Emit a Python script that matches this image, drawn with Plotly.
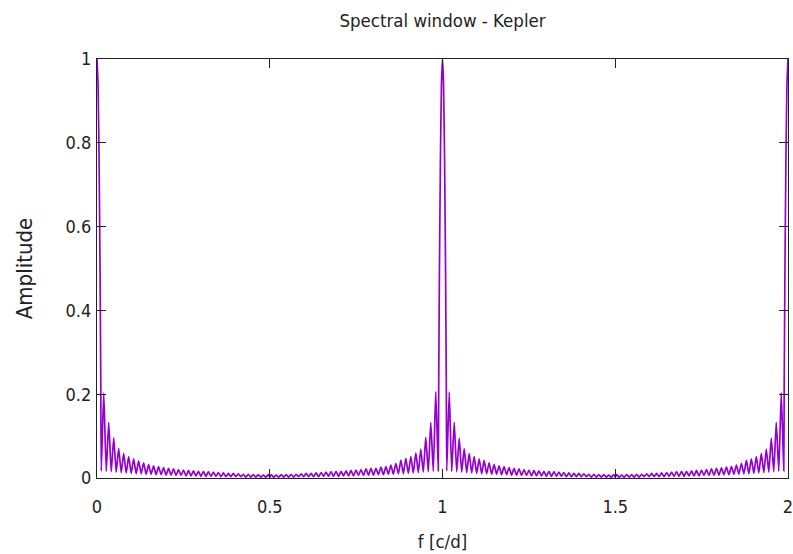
import plotly.graph_objects as go

# ---- data (peaks and troughs of the window lobes) ----
freq_a = [0.0, 0.003, 0.006, 0.009, 0.011,
          0.0123, 0.0195, 0.0267, 0.0339, 0.0412, 0.0484, 0.0556, 0.0628, 0.0700, 0.0772,
          0.0845, 0.0917, 0.0989, 0.1061, 0.1133, 0.1205, 0.1277, 0.1349, 0.1422, 0.1494,
          0.1566, 0.1638, 0.1710, 0.1782, 0.1855, 0.1927, 0.1999, 0.2071, 0.2143, 0.2215,
          0.2288, 0.2360, 0.2432, 0.2504, 0.2576, 0.2648, 0.2720, 0.2792, 0.2865, 0.2937,
          0.3009, 0.3081, 0.3153, 0.3225, 0.3298, 0.3370, 0.3442, 0.3514, 0.3586, 0.3658,
          0.3731, 0.3803, 0.3875, 0.3947, 0.4019, 0.4091, 0.4163, 0.4235, 0.4308, 0.4380,
          0.4452, 0.4524, 0.4596, 0.4668, 0.4741, 0.4813, 0.4885, 0.4957, 0.5000]
amp_a = [1.0, 0.94, 0.76, 0.48, 0.22,
         0.017, 0.203, 0.016, 0.133, 0.015, 0.096, 0.014, 0.071, 0.013, 0.059,
         0.012, 0.051, 0.011, 0.046, 0.010, 0.041, 0.010, 0.036, 0.009, 0.032,
         0.009, 0.029, 0.008, 0.027, 0.008, 0.025, 0.007, 0.023, 0.007, 0.022,
         0.006, 0.020, 0.006, 0.019, 0.005, 0.018, 0.005, 0.017, 0.005, 0.016,
         0.004, 0.016, 0.004, 0.015, 0.004, 0.014, 0.004, 0.013, 0.003, 0.012,
         0.003, 0.011, 0.003, 0.011, 0.003, 0.010, 0.003, 0.009, 0.002, 0.009,
         0.002, 0.008, 0.002, 0.008, 0.002, 0.007, 0.002, 0.008, 0.002]

freq_b = [0.5043, 0.5115, 0.5187, 0.5259, 0.5332, 0.5404, 0.5476, 0.5548, 0.5620, 0.5692,
          0.5765, 0.5837, 0.5909, 0.5981, 0.6053, 0.6125, 0.6197, 0.6269, 0.6342, 0.6414,
          0.6486, 0.6558, 0.6630, 0.6702, 0.6775, 0.6847, 0.6919, 0.6991, 0.7063, 0.7135,
          0.7208, 0.7280, 0.7352, 0.7424, 0.7496, 0.7568, 0.7640, 0.7712, 0.7785, 0.7857,
          0.7929, 0.8001, 0.8073, 0.8145, 0.8218, 0.8290, 0.8362, 0.8434, 0.8506, 0.8578,
          0.8651, 0.8723, 0.8795, 0.8867, 0.8939, 0.9011, 0.9083, 0.9155, 0.9228, 0.9300,
          0.9372, 0.9444, 0.9516, 0.9588, 0.9661, 0.9733, 0.9805, 0.9877, 0.989, 0.991,
          0.994, 0.997]
amp_b = [0.008, 0.002, 0.007, 0.002, 0.008, 0.002, 0.008, 0.002, 0.009, 0.002,
         0.009, 0.003, 0.010, 0.003, 0.011, 0.003, 0.011, 0.003, 0.012, 0.003,
         0.013, 0.004, 0.014, 0.004, 0.015, 0.004, 0.016, 0.004, 0.016, 0.005,
         0.017, 0.005, 0.018, 0.005, 0.019, 0.006, 0.020, 0.006, 0.022, 0.007,
         0.023, 0.007, 0.023, 0.008, 0.026, 0.008, 0.027, 0.009, 0.031, 0.009,
         0.035, 0.010, 0.043, 0.010, 0.047, 0.011, 0.051, 0.012, 0.060, 0.013,
         0.069, 0.014, 0.097, 0.015, 0.133, 0.016, 0.206, 0.017, 0.22, 0.48,
         0.76, 0.94]

freq_c = [1.0, 1.003, 1.006, 1.009, 1.011,
          1.0123, 1.0195, 1.0267, 1.0339, 1.0412, 1.0484, 1.0556, 1.0628, 1.0700, 1.0772,
          1.0845, 1.0917, 1.0989, 1.1061, 1.1133, 1.1205, 1.1277, 1.1349, 1.1422, 1.1494,
          1.1566, 1.1638, 1.1710, 1.1782, 1.1855, 1.1927, 1.1999, 1.2071, 1.2143, 1.2215,
          1.2288, 1.2360, 1.2432, 1.2504, 1.2576, 1.2648, 1.2720, 1.2792, 1.2865, 1.2937,
          1.3009, 1.3081, 1.3153, 1.3225, 1.3298, 1.3370, 1.3442, 1.3514, 1.3586, 1.3658,
          1.3731, 1.3803, 1.3875, 1.3947, 1.4019, 1.4091, 1.4163, 1.4235, 1.4308, 1.4380,
          1.4452, 1.4524, 1.4596, 1.4668, 1.4741, 1.4813, 1.4885, 1.4957, 1.5000]
amp_c = [1.0, 0.94, 0.76, 0.48, 0.22,
         0.017, 0.205, 0.016, 0.133, 0.015, 0.095, 0.014, 0.070, 0.013, 0.059,
         0.012, 0.051, 0.011, 0.046, 0.010, 0.042, 0.010, 0.036, 0.009, 0.032,
         0.009, 0.029, 0.008, 0.027, 0.008, 0.025, 0.007, 0.023, 0.007, 0.022,
         0.006, 0.020, 0.006, 0.019, 0.005, 0.018, 0.005, 0.017, 0.005, 0.016,
         0.004, 0.016, 0.004, 0.015, 0.004, 0.014, 0.004, 0.013, 0.003, 0.012,
         0.003, 0.011, 0.003, 0.011, 0.003, 0.010, 0.003, 0.009, 0.002, 0.009,
         0.002, 0.008, 0.002, 0.008, 0.002, 0.007, 0.002, 0.008, 0.002]

freq_d = [1.5043, 1.5115, 1.5187, 1.5259, 1.5332, 1.5404, 1.5476, 1.5548, 1.5620, 1.5692,
          1.5765, 1.5837, 1.5909, 1.5981, 1.6053, 1.6125, 1.6197, 1.6269, 1.6342, 1.6414,
          1.6486, 1.6558, 1.6630, 1.6702, 1.6775, 1.6847, 1.6919, 1.6991, 1.7063, 1.7135,
          1.7208, 1.7280, 1.7352, 1.7424, 1.7496, 1.7568, 1.7640, 1.7712, 1.7785, 1.7857,
          1.7929, 1.8001, 1.8073, 1.8145, 1.8218, 1.8290, 1.8362, 1.8434, 1.8506, 1.8578,
          1.8651, 1.8723, 1.8795, 1.8867, 1.8939, 1.9011, 1.9083, 1.9155, 1.9228, 1.9300,
          1.9372, 1.9444, 1.9516, 1.9588, 1.9661, 1.9733, 1.9805, 1.9877, 1.989, 1.991,
          1.994, 1.997, 2.0]
amp_d = [0.008, 0.002, 0.007, 0.002, 0.008, 0.002, 0.008, 0.002, 0.009, 0.002,
         0.009, 0.003, 0.010, 0.003, 0.011, 0.003, 0.011, 0.003, 0.012, 0.003,
         0.013, 0.004, 0.014, 0.004, 0.015, 0.004, 0.016, 0.004, 0.016, 0.005,
         0.017, 0.005, 0.018, 0.005, 0.019, 0.006, 0.020, 0.006, 0.022, 0.007,
         0.023, 0.007, 0.024, 0.008, 0.026, 0.008, 0.028, 0.009, 0.031, 0.009,
         0.035, 0.010, 0.042, 0.010, 0.046, 0.011, 0.051, 0.012, 0.059, 0.013,
         0.069, 0.014, 0.095, 0.015, 0.133, 0.016, 0.204, 0.017, 0.22, 0.48,
         0.76, 0.94, 1.0]

x_ticks = [0, 0.5, 1, 1.5, 2]
x_tick_text = ["0", "0.5", "1", "1.5", "2"]
y_ticks = [0, 0.2, 0.4, 0.6, 0.8, 1]
y_tick_text = ["0", "0.2", "0.4", "0.6", "0.8", "1"]

for f, a in ((freq_a, amp_a), (freq_b, amp_b), (freq_c, amp_c), (freq_d, amp_d)):
    assert len(f) == len(a), (len(f), len(a))

freq = freq_a + freq_b + freq_c + freq_d
amp = amp_a + amp_b + amp_c + amp_d

FONT = "DejaVu Sans Condensed, Liberation Sans Narrow, DejaVu Sans, sans-serif"
INK = "#222222"

fig = go.Figure()
fig.add_trace(go.Scatter(
    x=freq, y=amp, mode="lines",
    line=dict(color="#9400D3", width=1.7, shape="spline", smoothing=0.5),
    showlegend=False, hoverinfo="x+y",
))

axis_common = dict(
    showline=True, linecolor=INK, linewidth=1.2, mirror="ticks",
    ticks="inside", ticklen=9, tickwidth=1, tickcolor=INK,
    showgrid=False, zeroline=False, ticklabeloverflow="allow", automargin=False,
    tickfont=dict(family=FONT, size=18, color=INK),
)

fig.update_layout(
    width=793, height=554,
    margin=dict(l=97, r=5, t=59, b=76, autoexpand=False),
    paper_bgcolor="white", plot_bgcolor="white",
    title=dict(text="Spectral window - Kepler", xref="paper", x=0.5, xanchor="center",
               y=0.963, yanchor="middle",
               font=dict(family=FONT, size=18.5, color=INK)),
    xaxis=dict(range=[0, 2], tickvals=x_ticks, ticktext=x_tick_text,
               ticklabelstandoff=12,
               title=dict(text="f [c/d]", standoff=19,
                          font=dict(family=FONT, size=18.5, color=INK)),
               **axis_common),
    yaxis=dict(range=[0, 1], tickvals=y_ticks, ticktext=y_tick_text,
               ticklabelstandoff=1,
               title=dict(text="Amplitude", standoff=26,
                          font=dict(family=FONT, size=22, color=INK)),
               **axis_common),
)

fig.write_html("out.html")
